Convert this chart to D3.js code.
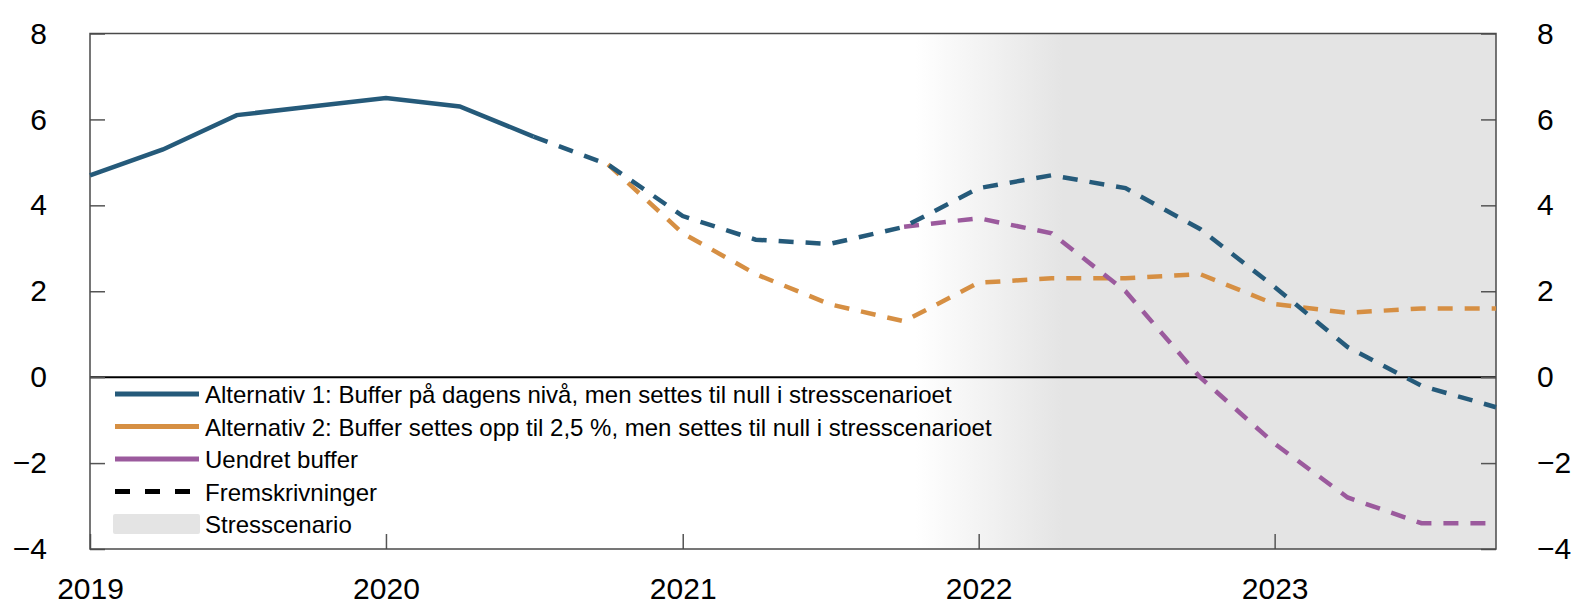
<!DOCTYPE html>
<html>
<head>
<meta charset="utf-8">
<script src="https://cdn.jsdelivr.net/npm/d3@7"></script>
<style>
  html, body { margin: 0; padding: 0; background: #fff; }
  svg text { font-family: "Liberation Sans", Arial, Helvetica, sans-serif; fill: #000; }
</style>
</head>
<body>
<div id="chart"></div>
<script>
// quarters (start dates) 2019K1 - 2023K4
const quarters = [
  '2019-01-01', '2019-04-01', '2019-07-01', '2019-10-01',
  '2020-01-01', '2020-04-01', '2020-07-01', '2020-10-01',
  '2021-01-01', '2021-04-01', '2021-07-01', '2021-10-01',
  '2022-01-01', '2022-04-01', '2022-07-01', '2022-10-01',
  '2023-01-01', '2023-04-01', '2023-07-01', '2023-10-01',
];

// Alternativ 1, historical (2019K1 - 2020K3)
const alt1Hist = [4.7, 5.3, 6.1, 6.3, 6.5, 6.3, 5.6];
// Alternativ 1, projection (2020K3 - 2023K4)
const alt1Proj = [5.6, 4.95, 3.75, 3.2, 3.1, 3.5, 4.4, 4.7, 4.4, 3.45, 2.1, 0.7, -0.2, -0.7];
// Alternativ 2, projection (2020K4 - 2023K4)
const alt2Proj = [4.95, 3.35, 2.4, 1.7, 1.3, 2.2, 2.3, 2.3, 2.4, 1.7, 1.5, 1.6, 1.6];
// Uendret buffer, projection (2021K4 - 2023K4)
const unchangedProj = [3.5, 3.7, 3.35, 2.0, 0.0, -1.55, -2.8, -3.4, -3.4];

const yTicks = [-4, -2, 0, 2, 4, 6, 8];
const xTickYears = ['2019', '2020', '2021', '2022', '2023'];

const stressFade = ['2021-10-15', '2022-04-15'];

const legendLabels = [
  'Alternativ 1: Buffer på dagens nivå, men settes til null i stresscenarioet',
  'Alternativ 2: Buffer settes opp til 2,5 %, men settes til null i stresscenarioet',
  'Uendret buffer',
  'Fremskrivninger',
  'Stresscenario',
];

const parse = d3.timeParse('%Y-%m-%d');
const qDates = quarters.map(parse);

const toPoints = (values, startIndex) =>
  values.map((v, i) => ({ date: qDates[startIndex + i], value: v }));

const seriesDefs = [
  { points: toPoints(alt2Proj, 7), color: '#d68f43', dashed: true },
  { points: toPoints(unchangedProj, 11), color: '#9b5a9d', dashed: true },
  { points: toPoints(alt1Proj, 6), color: '#255a7a', dashed: true },
  { points: toPoints(alt1Hist, 0), color: '#255a7a', dashed: false },
];

const width = 1594;
const height = 614;
const margin = { top: 33.5, right: 98, bottom: 65, left: 90 };
const fontSize = 30;
const dash = '15 12';

const svg = d3
  .select('#chart')
  .append('svg')
  .attr('width', width)
  .attr('height', height);

const x = d3
  .scaleTime()
  .domain([qDates[0], qDates[qDates.length - 1]])
  .range([margin.left, width - margin.right]);

const y = d3
  .scaleLinear()
  .domain([-4, 8])
  .range([height - margin.bottom, margin.top]);

// stress scenario background with fade-in
const defs = svg.append('defs');
const grad = defs
  .append('linearGradient')
  .attr('id', 'stressGrad')
  .attr('gradientUnits', 'userSpaceOnUse')
  .attr('x1', x(parse(stressFade[0])))
  .attr('x2', x(parse(stressFade[1])))
  .attr('y1', 0)
  .attr('y2', 0);
grad.append('stop').attr('offset', '0%').attr('stop-color', '#ffffff');
grad.append('stop').attr('offset', '100%').attr('stop-color', '#e4e4e4');

svg
  .append('rect')
  .attr('x', x(parse(stressFade[0])))
  .attr('y', y(8))
  .attr('width', x.range()[1] - x(parse(stressFade[0])))
  .attr('height', y(-4) - y(8))
  .attr('fill', 'url(#stressGrad)');

// zero line
svg
  .append('line')
  .attr('x1', x.range()[0])
  .attr('x2', x.range()[1])
  .attr('y1', y(0))
  .attr('y2', y(0))
  .attr('stroke', '#000')
  .attr('stroke-width', 2);

// axes
const styleAxis = (g) => {
  g.select('.domain').remove();
  g.selectAll('.tick line').attr('stroke', '#555').attr('stroke-width', 1.5);
  g.selectAll('.tick text')
    .style('font-size', fontSize + 'px')
    .style('font-family', '"Liberation Sans", Arial, Helvetica, sans-serif')
    .attr('fill', '#000');
};

const yFormat = (d) => (d < 0 ? '\u2212' + Math.abs(d) : String(d));

svg
  .append('g')
  .attr('transform', `translate(${margin.left},0)`)
  .call(d3.axisLeft(y).tickValues(yTicks).tickFormat(yFormat).tickSizeInner(-15).tickSizeOuter(0).tickPadding(43))
  .call(styleAxis);

svg
  .append('g')
  .attr('transform', `translate(${width - margin.right},0)`)
  .call(d3.axisRight(y).tickValues(yTicks).tickFormat(yFormat).tickSizeInner(-15).tickSizeOuter(0).tickPadding(41))
  .call(styleAxis);

svg
  .append('g')
  .attr('transform', `translate(0,${height - margin.bottom})`)
  .call(
    d3
      .axisBottom(x)
      .tickValues(xTickYears.map((yr) => parse(yr + '-01-01')))
      .tickFormat(d3.timeFormat('%Y'))
      .tickSizeInner(-15)
      .tickSizeOuter(0)
      .tickPadding(29),
  )
  .call(styleAxis);

// frame
svg
  .append('rect')
  .attr('x', x.range()[0])
  .attr('y', y(8))
  .attr('width', x.range()[1] - x.range()[0])
  .attr('height', y(-4) - y(8))
  .attr('fill', 'none')
  .attr('stroke', '#4a4a4a')
  .attr('stroke-width', 1.5);

// lines
const line = d3
  .line()
  .x((d) => x(d.date))
  .y((d) => y(d.value));

seriesDefs.forEach((s) => {
  svg
    .append('path')
    .datum(s.points)
    .attr('fill', 'none')
    .attr('stroke', s.color)
    .attr('stroke-width', 4.5)
    .attr('stroke-dasharray', s.dashed ? dash : null)
    .attr('d', line);
});

// legend
const legend = svg.append('g').attr('transform', 'translate(115,394)');
const rowGap = 32.5;
const legendMarks = [
  { color: '#255a7a', dashed: false },
  { color: '#d68f43', dashed: false },
  { color: '#9b5a9d', dashed: false },
  { color: '#000', dashed: true },
  { color: '#e4e4e4', box: true },
];

legendMarks.forEach((m, i) => {
  const gy = i * rowGap;
  if (m.box) {
    legend
      .append('rect')
      .attr('x', -2)
      .attr('y', gy - 10)
      .attr('width', 87)
      .attr('height', 20)
      .attr('rx', 2)
      .attr('fill', m.color);
  } else {
    legend
      .append('line')
      .attr('x1', 0)
      .attr('x2', m.dashed ? 75 : 84)
      .attr('y1', gy)
      .attr('y2', gy)
      .attr('stroke', m.color)
      .attr('stroke-width', 5)
      .attr('stroke-dasharray', m.dashed ? '15 15' : null);
  }
  legend
    .append('text')
    .attr('x', 90)
    .attr('y', gy + 9)
    .style('font-size', '24px')
    .text(legendLabels[i]);
});
</script>
</body>
</html>
